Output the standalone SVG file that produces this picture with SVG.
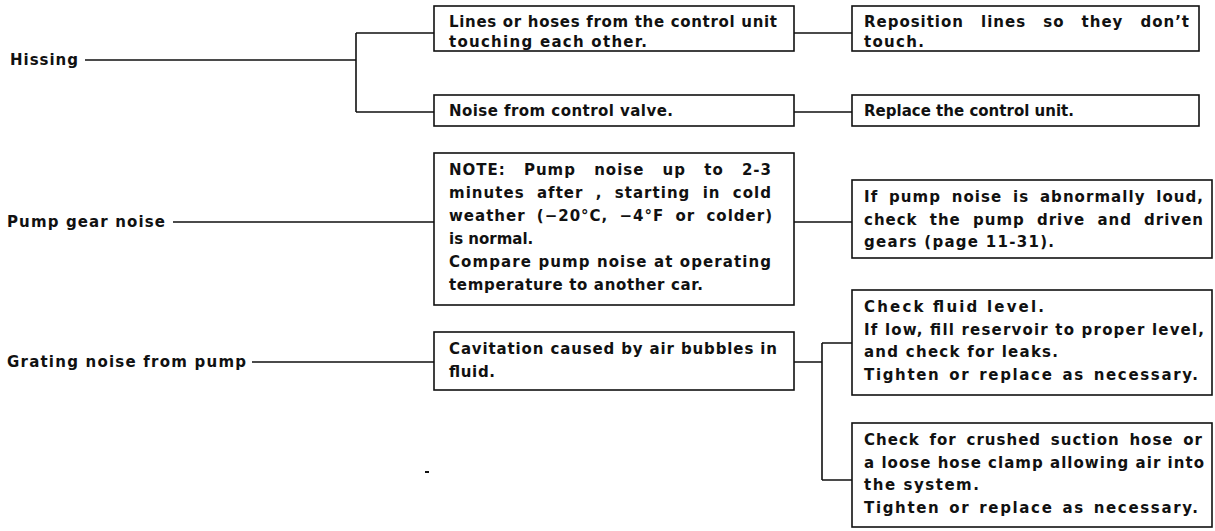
<svg xmlns="http://www.w3.org/2000/svg" width="1215" height="531" viewBox="0 0 1215 531">
<style>
.box{fill:#fff;stroke:#111;stroke-width:1.6}
.ln{fill:none;stroke:#111;stroke-width:1.6}
.t{font-family:"DejaVu Sans","Liberation Sans",Arial,sans-serif;font-weight:bold;font-size:15px;fill:#111}
</style>
<rect width="1215" height="531" fill="#fff"/>
<g id="connectors" class="ln">
<path d="M85 60H356M356 33V112M356 33H434M356 112H434"/>
<path d="M794 33H852M794 112H852"/>
<path d="M173 222H434M794 222H852"/>
<path d="M252 362H434M794 362H822M822 343V480M822 343H852M822 480H852"/>
</g>
<g id="hissing"><text class="t" x="10" y="65" textLength="68" lengthAdjust="spacing">Hissing</text></g>
<g id="pump-gear"><text class="t" x="7" y="227" textLength="158" lengthAdjust="spacing">Pump gear noise</text></g>
<g id="grating"><text class="t" x="7" y="367" textLength="239" lengthAdjust="spacing">Grating noise from pump</text></g>
<g id="lines-touching">
<rect class="box" x="434" y="6" width="360" height="45"/>
<text class="t" x="449" y="27" textLength="328" lengthAdjust="spacing">Lines or hoses from the control unit</text>
<text class="t" x="449" y="46.5" textLength="198" lengthAdjust="spacing">touching each other.</text>
</g>
<g id="control-valve">
<rect class="box" x="434" y="95" width="360" height="31"/>
<text class="t" x="449" y="115.5" textLength="224" lengthAdjust="spacing">Noise from control valve.</text>
</g>
<g id="reposition">
<rect class="box" x="852" y="6" width="347" height="45"/>
<text class="t" x="864" y="27" textLength="325" lengthAdjust="spacing" word-spacing="11">Reposition lines so they don’t</text>
<text class="t" x="864" y="46.5" textLength="60" lengthAdjust="spacing">touch.</text>
</g>
<g id="replace-unit">
<rect class="box" x="852" y="95" width="347" height="31"/>
<text class="t" x="864" y="115.5" textLength="210" lengthAdjust="spacing">Replace the control unit.</text>
</g>
<g id="note">
<rect class="box" x="434" y="153" width="360" height="152"/>
<text class="t" x="449" y="175" textLength="322" lengthAdjust="spacing" word-spacing="12">NOTE: Pump noise up to 2-3</text>
<text class="t" x="449" y="198" textLength="322" lengthAdjust="spacing" word-spacing="6">minutes after , starting in cold</text>
<text class="t" x="449" y="221" textLength="323" lengthAdjust="spacing" word-spacing="5">weather (−20°C, −4°F or colder)</text>
<text class="t" x="449" y="244">is normal.</text>
<text class="t" x="449" y="267" textLength="322" lengthAdjust="spacing">Compare pump noise at operating</text>
<text class="t" x="449" y="290" textLength="254" lengthAdjust="spacing">temperature to another car.</text>
</g>
<g id="pump-loud">
<rect class="box" x="852" y="180" width="360" height="78"/>
<text class="t" x="864" y="202" textLength="339" lengthAdjust="spacing" word-spacing="4.5">If pump noise is abnormally loud,</text>
<text class="t" x="864" y="224.5" textLength="339" lengthAdjust="spacing" word-spacing="6">check the pump drive and driven</text>
<text class="t" x="864" y="247" textLength="190" lengthAdjust="spacing">gears (page 11-31).</text>
</g>
<g id="cavitation">
<rect class="box" x="434" y="332" width="360" height="58"/>
<text class="t" x="449" y="354" textLength="328" lengthAdjust="spacing">Cavitation caused by air bubbles in</text>
<text class="t" x="449" y="377" textLength="46" lengthAdjust="spacing">fluid.</text>
</g>
<g id="fluid-level">
<rect class="box" x="852" y="290" width="360" height="105"/>
<text class="t" x="864" y="312" textLength="180" lengthAdjust="spacing">Check fluid level.</text>
<text class="t" x="864" y="334.7" textLength="340" lengthAdjust="spacing">If low, fill reservoir to proper level,</text>
<text class="t" x="864" y="357.4" textLength="194" lengthAdjust="spacing">and check for leaks.</text>
<text class="t" x="864" y="380.1" textLength="334" lengthAdjust="spacing" word-spacing="2">Tighten or replace as necessary.</text>
</g>
<g id="suction-hose">
<rect class="box" x="852" y="423" width="360" height="104"/>
<text class="t" x="864" y="445" textLength="338" lengthAdjust="spacing" word-spacing="3.5">Check for crushed suction hose or</text>
<text class="t" x="864" y="467.7" textLength="340" lengthAdjust="spacing">a loose hose clamp allowing air into</text>
<text class="t" x="864" y="490.4" textLength="115" lengthAdjust="spacing">the system.</text>
<text class="t" x="864" y="513.1" textLength="334" lengthAdjust="spacing" word-spacing="2">Tighten or replace as necessary.</text>
</g>
<rect x="425" y="471" width="4" height="2" fill="#111"/>
</svg>
